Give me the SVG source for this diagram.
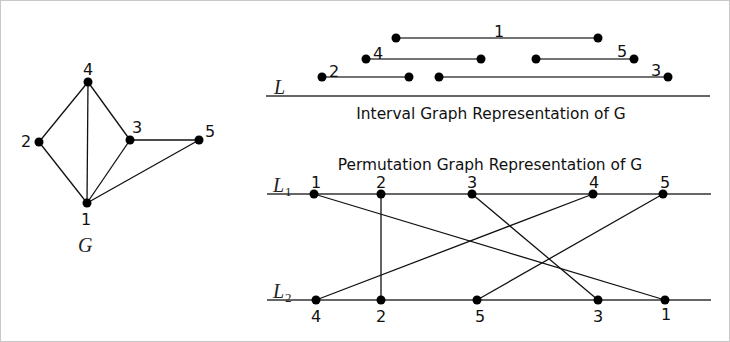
<svg xmlns="http://www.w3.org/2000/svg" width="730" height="342" viewBox="0 0 730 342">
<style>
.e{stroke:#111;stroke-width:1.3;fill:none}
.iv{stroke:#444;stroke-width:1.6;fill:none}
.ax{stroke:#333;stroke-width:1.3;fill:none}
.d{fill:#000}
.t{font-family:"DejaVu Sans",sans-serif;font-size:16px;fill:#111;text-anchor:middle}
.h{font-family:"DejaVu Sans",sans-serif;font-size:15.4px;fill:#111;text-anchor:middle}
.m{font-family:"Liberation Serif",serif;font-style:italic;font-size:20px;fill:#222}
.s{font-family:"Liberation Serif",serif;font-size:13px;fill:#222}
</style>
<rect x="0.5" y="0.5" width="729" height="341" fill="#fff" stroke="#c8c8c8"/>
<g id="edges-G">
<line class="e" x1="88" y1="82" x2="39" y2="142"/>
<line class="e" x1="88" y1="82" x2="87" y2="203"/>
<line class="e" x1="88" y1="82" x2="130" y2="140"/>
<line class="e" x1="39" y1="142" x2="87" y2="203"/>
<line class="e" x1="130" y1="140" x2="87" y2="203"/>
<line class="e" x1="130" y1="140" x2="199" y2="140"/>
<line class="e" x1="199" y1="140" x2="87" y2="203"/>
</g>
<g id="g1"><circle class="d" cx="87" cy="203" r="4.5"/><text class="t" x="86" y="225">1</text></g>
<g id="g2"><circle class="d" cx="39" cy="142" r="4.5"/><text class="t" x="26" y="147">2</text></g>
<g id="g3"><circle class="d" cx="130" cy="140" r="4.5"/><text class="t" x="137" y="133">3</text></g>
<g id="g4"><circle class="d" cx="88" cy="82" r="4.5"/><text class="t" x="88" y="75">4</text></g>
<g id="g5"><circle class="d" cx="199" cy="140" r="4.5"/><text class="t" x="210" y="137">5</text></g>
<text class="m" x="78" y="252">G</text>

<g id="interval">
<line class="ax" x1="266" y1="96" x2="710" y2="96"/>
<text class="m" x="274" y="94">L</text>
<g id="i1"><line class="iv" x1="396" y1="38" x2="598" y2="38"/><circle class="d" cx="396" cy="38" r="4.5"/><circle class="d" cx="598" cy="38" r="4.5"/><text class="t" x="499" y="37">1</text></g>
<g id="i4"><line class="iv" x1="366" y1="59" x2="481" y2="59"/><circle class="d" cx="366" cy="59" r="4.5"/><circle class="d" cx="481" cy="59" r="4.5"/><text class="t" x="378" y="59">4</text></g>
<g id="i5"><line class="iv" x1="536" y1="59" x2="634" y2="59"/><circle class="d" cx="536" cy="59" r="4.5"/><circle class="d" cx="634" cy="59" r="4.5"/><text class="t" x="622" y="57">5</text></g>
<g id="i2"><line class="iv" x1="322" y1="77" x2="409" y2="77"/><circle class="d" cx="322" cy="77" r="4.5"/><circle class="d" cx="409" cy="77" r="4.5"/><text class="t" x="334" y="77">2</text></g>
<g id="i3"><line class="iv" x1="439" y1="77" x2="668" y2="77"/><circle class="d" cx="439" cy="77" r="4.5"/><circle class="d" cx="668" cy="77" r="4.5"/><text class="t" x="656" y="76">3</text></g>
<text class="h" x="491" y="119">Interval Graph Representation of G</text>
</g>

<g id="permutation">
<text class="h" x="490" y="170">Permutation Graph Representation of G</text>
<line class="ax" x1="267" y1="194" x2="711" y2="194"/>
<line class="ax" x1="267" y1="300" x2="711" y2="300"/>
<text class="m" x="273" y="192">L</text><text class="s" x="285" y="196">1</text>
<text class="m" x="273" y="298">L</text><text class="s" x="285" y="302">2</text>
<g id="p-lines">
<line class="e" x1="314" y1="194" x2="665" y2="300"/>
<line class="e" x1="381" y1="194" x2="381" y2="300"/>
<line class="e" x1="472" y1="194" x2="598" y2="300"/>
<line class="e" x1="593" y1="194" x2="316" y2="300"/>
<line class="e" x1="663" y1="194" x2="477" y2="300"/>
</g>
<g id="top-pts">
<circle class="d" cx="314" cy="194" r="4.5"/><text class="t" x="316" y="188">1</text>
<circle class="d" cx="381" cy="194" r="4.5"/><text class="t" x="381" y="188">2</text>
<circle class="d" cx="472" cy="194" r="4.5"/><text class="t" x="472" y="188">3</text>
<circle class="d" cx="593" cy="194" r="4.5"/><text class="t" x="594" y="188">4</text>
<circle class="d" cx="663" cy="194" r="4.5"/><text class="t" x="665" y="188">5</text>
</g>
<g id="bottom-pts">
<circle class="d" cx="316" cy="300" r="4.5"/><text class="t" x="316" y="322">4</text>
<circle class="d" cx="381" cy="300" r="4.5"/><text class="t" x="381" y="322">2</text>
<circle class="d" cx="477" cy="300" r="4.5"/><text class="t" x="480" y="322">5</text>
<circle class="d" cx="598" cy="300" r="4.5"/><text class="t" x="598" y="322">3</text>
<circle class="d" cx="665" cy="300" r="4.5"/><text class="t" x="666" y="320">1</text>
</g>
</g>
</svg>
